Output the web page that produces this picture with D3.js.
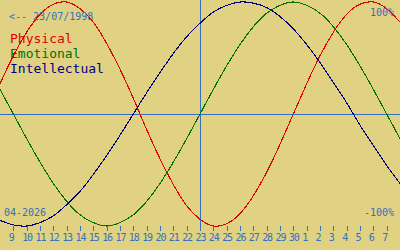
<!DOCTYPE html>
<html>
<head>
<meta charset="utf-8">
<script src="https://cdn.jsdelivr.net/npm/d3@7"></script>
<style>
  body { margin: 0; background: #e0d282; }
  svg { display: block; }
  text { font-family: "DejaVu Sans Mono", monospace; }
</style>
</head>
<body>
<svg id="chart" width="400" height="250"></svg>
<script>
// days shown, 8 April .. 8 May 2026 (index 0 .. 30)
var days = [8, 9, 10, 11, 12, 13, 14, 15, 16, 17, 18, 19, 20, 21, 22, 23, 24, 25, 26, 27, 28, 29, 30,
            1, 2, 3, 4, 5, 6, 7, 8];
var today = 15;

// cycle values in percent, one per day
var physical = [27, 52, 73, 89, 98, 100, 94, 82, 63, 40, 14, -14, -40, -63, -82, -94, -100, -98, -89, -73,
                -52, -27, 0, 27, 52, 73, 89, 98, 100, 94, 82];
var emotional = [22, 0, -22, -43, -62, -78, -90, -97, -100, -97, -90, -78, -62, -43, -22, 0, 22, 43, 62, 78,
                 90, 97, 100, 97, 90, 78, 62, 43, 22, 0, -22];
var intellectual = [-95, -99, -100, -97, -91, -81, -69, -54, -37, -19, 0, 19, 37, 54, 69, 81, 91, 97, 100, 99,
                    95, 87, 76, 62, 46, 28, 10, -10, -28, -46, -62];

var seriesNames = ['Physical', 'Emotional', 'Intellectual'];
var seriesColors = ['#e00000', '#007000', '#000080'];
var seriesData = [physical, emotional, intellectual];

var svg = d3.select('#chart');

var x = d3.scaleLinear().domain([0, days.length - 1]).range([0, 400]);
var y = d3.scaleLinear().domain([-100, 100]).range([226, 2]);

var blue = '#3470bc';

// mid line and today line
svg.append('line')
    .attr('x1', 0).attr('x2', 400)
    .attr('y1', Math.round(y(0)) + 0.5).attr('y2', Math.round(y(0)) + 0.5)
    .attr('stroke', blue)
    ;

svg.append('line')
    .attr('x1', x(today) + 0.5).attr('x2', x(today) + 0.5)
    .attr('y1', 0).attr('y2', 231)
    .attr('stroke', blue)
    ;

var line = d3.line()
    .x(function(d, i){return x(i);})
    .y(function(d){return y(d);})
    .curve(d3.curveNatural);

svg.selectAll('path.cycle')
    .data(seriesData)
    .enter().append('path')
    .attr('class', 'cycle')
    .attr('d', function(d){return line(d);})
    .attr('fill', 'none')
    .attr('stroke', function(d, i){return seriesColors[i];})
    .attr('stroke-width', 1.1)
    .attr('shape-rendering', 'crispEdges')
    ;

// day axis
var axis = d3.axisBottom(x)
    .tickValues(d3.range(1, days.length - 1))
    .tickFormat(function(d){return days[d];})
    .tickSize(5)
    .tickPadding(3);

var gx = svg.append('g')
    .attr('transform', 'translate(0,226)')
    .call(axis);

gx.select('.domain').remove();
gx.selectAll('.tick line')
    .attr('stroke', blue)
    .attr('shape-rendering', 'crispEdges');
gx.selectAll('.tick text')
    .attr('fill', blue)
    .attr('font-family', '"DejaVu Sans Mono", monospace')
    .attr('font-size', 10)
    .attr('letter-spacing', '-1.1px')
    .attr('text-anchor', 'start')
    .attr('dx', -5)
    .attr('dy', 0)
    .attr('y', 14.5)
    ;

// legend
svg.selectAll('text.legend')
    .data(seriesNames)
    .enter().append('text')
    .attr('class', 'legend')
    .attr('x', 10)
    .attr('y', function(d, i){return 43 + i * 15;})
    .attr('font-size', 13)
    .attr('fill', function(d, i){return seriesColors[i];})
    .text(function(d){return d;})
    ;

// labels
svg.append('text')
    .attr('x', 9).attr('y', 20)
    .attr('font-size', 10)
    .attr('fill', blue)
    .text('<-- 23/07/1998');

svg.append('text')
    .attr('x', 394).attr('y', 16)
    .attr('font-size', 10)
    .attr('text-anchor', 'end')
    .attr('fill', blue)
    .text('100%');

svg.append('text')
    .attr('x', 394).attr('y', 216)
    .attr('font-size', 10)
    .attr('text-anchor', 'end')
    .attr('fill', blue)
    .text('-100%');

svg.append('text')
    .attr('x', 4).attr('y', 216)
    .attr('font-size', 10)
    .attr('fill', blue)
    .text('04-2026');
</script>
</body>
</html>
